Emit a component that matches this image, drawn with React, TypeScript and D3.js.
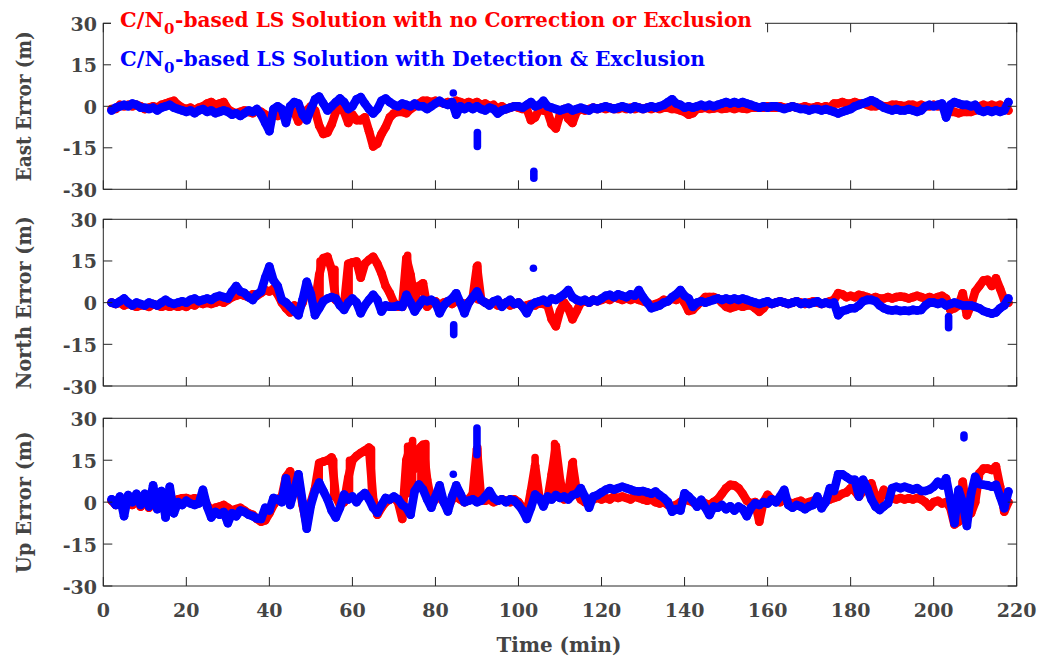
import { useEffect, useRef } from 'react';
import * as d3 from 'd3';

const W = 1043;
const H = 659;

// sample times (min), one reading per minute
const minutes = d3.range(2, 219);
const timeTicks = [0, 20, 40, 60, 80, 100, 120, 140, 160, 180, 200, 220];
const errorTicks = [-30, -15, 0, 15, 30];

// ---- East error (m) ----
const eastNoCorrection = [
  -1, -1, 0.5, 0, 0.5, 0, 0.5, 0, -1, -0.5,
  0, -0.5, 0.5, 1, 1.5, 2, 0.5, -0.5, -1, -0.5,
  -1.5, -0.5, 0, 1, 1.5, 0.5, 1, 1.5, -1, -2,
  -2.5, -2, -1.5, -2, -2.5, -1.5, -2, -3, -4, -3,
  -3.5, -2, -3, -1, -2, -5.5, -2, -1.5, 0, -1.5,
  -7, -10, -9.5, -6.5, -2, 0, -2, -6, -3, -5,
  -5, -4, -9, -14.5, -13.5, -10, -7.5, -4, -2.5, -2,
  -2, -2.5, -1, 0, 1, 2, 2, 1.5, 2, 1.5,
  1, 1.5, 1, 2, 1.5, 1, 1.5, 1, 1.5, 0.5,
  1, 0, 0.5, -1, 0, -1, -0.5, 0, -0.5, -1,
  -1, -5, -4, -1, -1.5, -2, -6.5, -8, -3, -1,
  -4.5, -6, -2, -1, -1.5, -1, -0.5, -1, -0.5, -1,
  -0.5, -1, -1, -0.5, -1, -0.5, -1, -0.5, -1, -0.5,
  -1, -0.5, -1, -0.5, -0.5, -1, -1, -1.5, -2, -3,
  -2.5, -1, -0.8, -0.5, -1, -0.8, -0.5, -1, -0.8, -0.5,
  -1, -0.5, -0.8, -1, -0.5, -0.5, -0.5, -0.5, 0, -0.5,
  -0.5, 0, -0.5, -0.5, 0, -0.5, -0.5, 0, -0.5, -0.5,
  0, -0.5, 0, -0.5, 1, 1, 1.5, 1, 1, 1.5,
  1, 1, 0.5, 0, 0, 0.5, 0, 0, 0.5, 0.5,
  0.3, 0, 0.5, 0.5, 0, 0.5, 0, 0, 0.5, 0,
  0, -0.5, -2, -2, -2.5, -2, -2, -2, -1.5, 0,
  0.5, 0, 0.5, 0, 0.5, -0.5, -1.5,
];
const eastExclusion = [
  -1.5, -0.5, 0, 0.5, 0, 1, 0.5, -0.5, -0.5, -1,
  -0.5, -1.5, -0.5, 0, 0.5, -0.5, -1, -1.5, -2, -1.5,
  -2.5, -1.5, -1, -2, -1.5, -2.5, -2, -1.5, -2, -3,
  -2.5, -3.5, -2.5, -1.5, -2, -1, -3, -6, -9, -1,
  0, -1, -6, 0, 1.5, 1, -3, -5, -1, 2.5,
  3.5, 1, -1.5, 0, 1.5, 2.8, 1.5, -1, 0, 2.5,
  3.3, 1, -1, -2.6, -1, 2, 2.8, 1.5, 0.5, 0,
  1, 0.5, 0, 1, 0, 0, -1, 0, 1, 2,
  1, 0.5, 1.5, -3, 0, -1, 0, -1, 0, -1,
  -1.5, -0.5, -1, -2.6, -1.5, -1, -0.5, 0, 0, -0.5,
  0.5, 1.5, 0, 0.5, 2, 0, -0.5, -1, -1.5, -1,
  -0.5, -1.5, -1, -0.5, -1, -1.5, -0.5, -1, -0.5, 0,
  -0.5, -1, -0.5, 0, -0.5, -1, 0, -0.5, -1, -0.5,
  0, -0.5, 0, 0.5, 1.5, 2.5, 1, 0.5, -0.5, 0,
  -0.5, 0, 0.5, 0, 0.5, 0, 0.5, 1, 1.5, 1,
  1.5, 1, 1.5, 1, 0.5, 0, -0.5, 0, -0.5, 0,
  0, -0.5, -1, -0.5, 0, -0.5, -1, -1, -1.5, -1,
  -1, -1.5, -1, -1.5, -2, -2.6, -2, -1.5, -1, 0,
  0.5, 1, 1.5, 2.2, 1.5, 0.5, -0.5, -1, -1.5, -1,
  -1.5, -1.5, -1, -1.5, -2, -1.5, 0, 0.5, 0, 0.5,
  1, -4, 0.5, 1.5, 1, 0.5, 0.5, 0, 0.5, -1.5,
  -2, -1.5, -2, -1.5, -2, -1.5, 1.5,
];
// isolated bursts: time, lowest, highest
const eastExclusionBurstT = [84.3, 90.1, 103.7];
const eastExclusionBurstLo = [4.8, -14.5, -26];
const eastExclusionBurstHi = [4.8, -9.5, -23.5];
const eastNoCorrectionBurstT: number[] = [];
const eastNoCorrectionBurstLo: number[] = [];
const eastNoCorrectionBurstHi: number[] = [];

// ---- North error (m) ----
const northNoCorrection = [
  0, -0.5, 0, -1, -0.5, -1, -1.5, -1, -1, -1.5,
  -0.5, -1, -1.5, -1, -1.5, -1, -1.5, -1, -1.5, -0.5,
  -1, 0, -0.5, 0, -0.5, 0, 0.5, 0, 1, 2,
  2.5, 3, 2.5, 2, 3, 2.5, 3.5, 4.5, 4, 5,
  3, 0, -2, -3.5, -1, -3, 0, 5, 3, 0,
  10, 16, 16.5, 12, 1, 0, -1, 14, 14.5, 14.8,
  9, 14, 15.4, 16.5, 14, 10.6, 6, 3.4, 0, -1.5,
  -1.5, 16, 10, 1, 6, 7, -1.5, 0, 0.5, -1,
  0, 0.5, -0.5, 0.5, 0, -0.5, 0, 2, 13, 1,
  0, -0.5, 0, -1, -0.5, 0, -1, -0.5, 0, -1.5,
  -1, -0.5, -1, 0, -0.5, -1, -6, -8.5, -3, 0,
  -2, -6, -3, 0, 0.5, 0, 1, 0.5, 1, 1.5,
  1, 2, 1.5, 1, 1.5, 1, 1.5, 1, 0.5, 0,
  -1, -0.5, 0, 1, 0.5, 1.5, 1, 2, 0, -3,
  -2.6, -1, 0.5, 2, 2, 2, 1.5, 0, -1.5, -2,
  -1.5, -1, -1.5, -1, -1, -2, -3.3, -2, 0, -0.5,
  0, 0.5, 0, -0.5, 0, 0.5, 0, -0.5, 0, 0.5,
  0, -0.5, 0, 0.5, 1, 3.4, 3, 2, 2.5, 2,
  2.8, 2.5, 2, 1.5, 2, 1.5, 1.5, 2, 1.5, 2,
  2.2, 2, 1.5, 2, 2.5, 2, 1.5, 2, 1.5, 2,
  2.5, 1.5, -2.6, -2, -1, 3.4, -4.5, -1, 4, 6,
  8, 8.2, 6, 8.8, 5, 1, 0,
];
const northExclusion = [
  0, -0.5, 0.5, 1.5, 0, -1, 0, -0.5, -1, 0,
  -0.5, -1, 0, 1, 0, -0.5, 0, 0.5, 0, 1,
  1.5, 0.5, 1, 1.5, 1, 2, 2.5, 2, 1.5, 4,
  6, 4, 3.5, 2, 1, 3, 4, 9, 13, 8,
  6, 1, 0, -1.5, -3, -4.5, 1, 7.5, 3, -4.5,
  -2, 0.5, 1.5, 2, 1.5, -1, -2.6, 0, 1.5, 0,
  -3.8, -1, 1, 2.8, 1, -3.2, -1, -1.5, -1.5, -1,
  -1.5, 2.8, 0, -3.2, -1, 1, 0.5, 1, 0, -3.8,
  -1, 0.5, 1.5, 3.4, 0, -3.8, 0, 2, 4, 1,
  0, -1, 0.5, 1, -1.5, 0, 1, -0.5, 0, -1.5,
  -3.8, -1, 0, 0.5, 1, 0, 1.5, 1, 2, 3,
  4.5, 2, 1, 0.5, 1, 0, 1, 0.5, 1.5, 2.5,
  2.8, 2, 3, 2.5, 2, 3, 2.5, 4.5, 2, 0,
  -2, -1.5, -1, 0, 0.5, 2, 3, 4.5, 2.5, 1.5,
  -1.5, 0, 0.5, 0, 0.5, 1, 1.5, 1, 1.5, 1,
  1.5, 1, 1.5, 1, 0.5, 0, -0.5, 0, 0.5, -0.5,
  0, 0.5, 0, -0.5, 0, 0.5, -0.5, 0, -0.5, 0,
  0.5, -0.5, 0, -0.5, 0, -4.5, -3, -2.6, -2, -2,
  -1, 0.5, 1, 1, 0.5, -1, -2, -2.6, -2.8, -2.6,
  -3, -2.8, -3, -2.6, -2.8, -2.6, -1, 0, 0, -0.5,
  0, -1, -0.5, 0, -0.5, -1, -1, -1, -1.5, -2,
  -3, -3.5, -4, -3.5, -2, -1, 1.5,
];
const northExclusionBurstT = [84.4, 103.6, 203.6];
const northExclusionBurstLo = [-11.5, 12.4, -9];
const northExclusionBurstHi = [-8, 12.4, -5];
const northNoCorrectionBurstT = [52.2, 55.8, 59.2, 73.3, 90.2];
const northNoCorrectionBurstLo = [2, 1, 1, 0, 1];
const northNoCorrectionBurstHi = [15, 12, 14, 17, 13.5];

// ---- Up error (m) ----
const upNoCorrection = [
  0.5, -1, 1.5, -3, 2, -1, 2, -1.6, 2, -2,
  4, -2, 3, -4, 4, -2, 1, 1.4, 1.5, 1,
  1.4, 0.5, 2, -1, -3, -2, -1.6, -1, -2, -3,
  -2.5, -2, -3, -4, -4.5, -6, -7, -6.5, -4, -1,
  1, 2, 9, 11, 4, 8, -1, -8, 0, 5,
  14, 14.5, 15, 16, 2, -1, 0, 8.7, 15, 16.5,
  17.6, 18.5, 19.5, 1, -4.5, -2, 0, 1, 1.5, 0,
  -6, 15, 20, 12, 19, 20.5, 8, 0, 1, 3,
  0, -2, 1, 2, 1, 0, 1, 3, 19, 1,
  0.5, 1, 0, 0.5, 1, 0.5, 0, 1, 0, -2,
  -4, 4, 13, 2, 0, 1, 10, 20, 8, 1,
  3, 14, 4, 1, 0, 0.5, 1, 1.5, 1, 1.5,
  1, 2, 1.5, 2, 1.5, 1, 2, 1.5, 1, 0.5,
  1, 0, -0.5, 0, -1, -1.5, -1, 0, 1, 0.5,
  0, -1, 0.5, -0.5, -1, 0, 1, 3, 5, 6.2,
  6, 5, 3, 0.5, -0.5, 0, -7, 0, 2.6, 1,
  0.5, 0, 1, 0, -0.5, 0, 0.5, -0.5, 0, 0.5,
  0, 0, 0.5, 1, 1.5, 2, 3, 3.5, 5, 4,
  2, 4, 6, 6.7, 2, 1, 4.4, 2, 1.4, 1,
  1.5, 1, 1.4, 1, 1.5, 1, 0, -1.6, 0, 0.5,
  -0.5, 0, -2, -8, -7, 7.3, -4, -4, 0, 10.3,
  12, 12, 11.5, 12.8, 5.6, -3.4, 0,
];
const upExclusion = [
  1, -1, 2, -5, 2.5, 0, 3, -1, 3, -1.5,
  6, -2.5, 4, -5.5, 5.5, -4, 0, -1, 0.5, -0.5,
  -1, -0.5, 4.4, -1.6, -5.5, -3.5, -4.5, -3.5, -7.5, -4,
  -5, -3, -3.5, -4.5, -5, -5.8, -6, -2, -3, 1.5,
  1, 0, 8.5, -1, 4, 10, 0, -9.5, -1, 4,
  7, 4, 1, -3, -5.5, -2, 2.7, 1, 2, 0,
  2, 3.3, 1, -2, -3.8, -1, 1.5, 1, 2, 1,
  -1, -2, -4.5, 4, 6.3, 4.5, 1, -2, 2, 6,
  0, -3.3, 2, 6, 3, 0, 0.5, 1, 0, 0.5,
  2, 4, 1.5, 0.5, 1, 0, 1, 0.5, -1, -3,
  -6, -2, 2.7, 1.5, -1.5, 2, 1, 2.5, 1.5, 2,
  1, 2.5, 3, 5, 2, -2, 2, 2.5, 3.5, 4.4,
  5, 4.5, 5, 5.5, 5, 4.5, 4, 3.8, 4, 3.5,
  3, 3.8, 2.5, 1.5, 0, -3.4, -2.5, -3, 3.2, 2,
  0.5, -1.6, 0.8, -2, -4.6, -1.6, -2, -1, -2.5, -1.5,
  -3, -1.6, -2.5, -5, -2, -0.4, -1, 0, -0.5, 1,
  0, 2, 4.4, -1, -2, -1, -1.6, -2.5, -1.5, -1,
  2, -2.2, 0, 5, 4, 10, 10, 9, 8, 8,
  2, 8, 5, 1, -1.6, -2.8, -1.5, -0.4, 5, 5.5,
  5, 5.5, 5, 4.5, 5, 4, 4, 4.5, 5.5, 7.3,
  6, 8.5, 0.8, -7.5, 4.4, 0, -8.5, 3, 9.1, 6.5,
  6.2, 6, 5.5, 6.2, 2, -2.2, 3.8,
];
const upExclusionBurstT = [84.3, 90, 207.3];
const upExclusionBurstLo = [10, 17, 23];
const upExclusionBurstHi = [10, 26.5, 24];
const upNoCorrectionBurstT = [52, 55.5, 59.3, 64.6, 73.3, 74.5, 76.5, 77.7, 90.2, 104, 108.7, 113.2];
const upNoCorrectionBurstLo = [5, 2, 2, 2, 3, 5, 5, 5, 2, 8, 3, 3];
const upNoCorrectionBurstHi = [14, 15, 15, 19, 20, 22, 20, 21, 19.5, 16, 21, 14.5];

const RED = '#ff0000';
const BLUE = '#0000ff';
const AXIS = '#262626';
const LABEL = '#444444';
const FONT = '"DejaVu Serif", serif';

const panels = [
  {
    label: 'East Error (m)', top: 23.3, bottom: 189.3,
    red: eastNoCorrection, blue: eastExclusion,
    redBurst: [eastNoCorrectionBurstT, eastNoCorrectionBurstLo, eastNoCorrectionBurstHi],
    blueBurst: [eastExclusionBurstT, eastExclusionBurstLo, eastExclusionBurstHi],
    labelLen: 150,
  },
  {
    label: 'North Error (m)', top: 219.3, bottom: 386,
    red: northNoCorrection, blue: northExclusion,
    redBurst: [northNoCorrectionBurstT, northNoCorrectionBurstLo, northNoCorrectionBurstHi],
    blueBurst: [northExclusionBurstT, northExclusionBurstLo, northExclusionBurstHi],
    labelLen: 173,
  },
  {
    label: 'Up Error (m)', top: 418.3, bottom: 586,
    red: upNoCorrection, blue: upExclusion,
    redBurst: [upNoCorrectionBurstT, upNoCorrectionBurstLo, upNoCorrectionBurstHi],
    blueBurst: [upExclusionBurstT, upExclusionBurstLo, upExclusionBurstHi],
    labelLen: 142,
  },
];

const App = () => {
  const svgRef = useRef<SVGSVGElement>(null);

  useEffect(() => {
    const svg = d3.select(svgRef.current);
    svg.selectAll('*').remove();

    const x = d3.scaleLinear().domain([0, 220]).range([103.3, 1016.7]);
    const MARK_W = 8.6;

    panels.forEach((p, pi) => {
      const y = d3.scaleLinear().domain([-30, 30]).range([p.bottom, p.top]);
      const g = svg.append('g');

      const drawSeries = (vals: number[], burst: number[][], color: string) => {
        const pts = vals.map((v, i) => [minutes[i], v] as [number, number]);
        const line = d3.line<[number, number]>()
          .x(d => x(d[0]))
          .y(d => y(d[1]));
        g.append('path')
          .attr('d', line(pts))
          .attr('fill', 'none')
          .attr('stroke', color)
          .attr('stroke-width', MARK_W)
          .attr('stroke-linejoin', 'round')
          .attr('stroke-linecap', 'round');
        g.append('g')
          .selectAll('circle')
          .data(pts)
          .join('circle')
          .attr('cx', d => x(d[0]))
          .attr('cy', d => y(d[1]))
          .attr('r', MARK_W / 2)
          .attr('fill', color);

        const [bt, lo, hi] = burst;
        g.append('g')
          .selectAll('line')
          .data(bt)
          .join('line')
          .attr('x1', d => x(d))
          .attr('x2', d => x(d))
          .attr('y1', (d, i) => y(lo[i]))
          .attr('y2', (d, i) => y(hi[i]))
          .attr('stroke', color)
          .attr('stroke-width', MARK_W - 1)
          .attr('stroke-linecap', 'round');
      };

      drawSeries(p.red, p.redBurst, RED);
      drawSeries(p.blue, p.blueBurst, BLUE);

      // frame
      g.append('rect')
        .attr('x', x(0))
        .attr('y', p.top)
        .attr('width', x(220) - x(0))
        .attr('height', p.bottom - p.top)
        .attr('fill', 'none')
        .attr('stroke', AXIS)
        .attr('stroke-width', 1);

      const TICK = 9;
      // x ticks, inward on top and bottom
      timeTicks.forEach(t => {
        g.append('line')
          .attr('x1', x(t)).attr('x2', x(t))
          .attr('y1', p.bottom).attr('y2', p.bottom - TICK)
          .attr('stroke', AXIS);
        g.append('line')
          .attr('x1', x(t)).attr('x2', x(t))
          .attr('y1', p.top).attr('y2', p.top + TICK)
          .attr('stroke', AXIS);
      });
      // y ticks, inward on left and right
      errorTicks.forEach(v => {
        g.append('line')
          .attr('x1', x(0)).attr('x2', x(0) + TICK)
          .attr('y1', y(v)).attr('y2', y(v))
          .attr('stroke', AXIS);
        g.append('line')
          .attr('x1', x(220)).attr('x2', x(220) - TICK)
          .attr('y1', y(v)).attr('y2', y(v))
          .attr('stroke', AXIS);
        g.append('text')
          .attr('x', 97)
          .attr('y', y(v) + 7.5)
          .attr('text-anchor', 'end')
          .attr('font-family', FONT)
          .attr('font-weight', 'bold')
          .attr('font-size', 19)
          .attr('fill', LABEL)
          .text(v);
      });

      // y label
      g.append('text')
        .attr('transform', `translate(31,${(p.top + p.bottom) / 2}) rotate(-90)`)
        .attr('text-anchor', 'middle')
        .attr('font-family', FONT)
        .attr('font-weight', 'bold')
        .attr('font-size', 20)
        .attr('fill', LABEL)
        .attr('textLength', p.labelLen)
        .attr('lengthAdjust', 'spacingAndGlyphs')
        .text(p.label);

      if (pi === panels.length - 1) {
        timeTicks.forEach(t => {
          g.append('text')
            .attr('x', x(t))
            .attr('y', 616.7)
            .attr('text-anchor', 'middle')
            .attr('font-family', FONT)
            .attr('font-weight', 'bold')
            .attr('font-size', 19)
            .attr('fill', LABEL)
            .text(t);
        });
        g.append('text')
          .attr('x', 559)
          .attr('y', 651.7)
          .attr('text-anchor', 'middle')
          .attr('font-family', FONT)
          .attr('font-weight', 'bold')
          .attr('font-size', 20)
          .attr('fill', LABEL)
          .attr('textLength', 125)
          .attr('lengthAdjust', 'spacingAndGlyphs')
          .text('Time (min)');
      }
    });

    // legend
    const legend = svg.append('g');
    legend.append('rect')
      .attr('x', 111)
      .attr('y', 0)
      .attr('width', 654)
      .attr('height', 80)
      .attr('fill', 'white');

    const entries = [
      { color: RED, rest: '-based LS Solution with no Correction or Exclusion', y: 27, len: 632 },
      { color: BLUE, rest: '-based LS Solution with Detection & Exclusion', y: 66, len: 585 },
    ];
    const LEG_X = 120;
    entries.forEach(e => {
      const style = (s: any, size: number) => s
        .attr('font-family', FONT)
        .attr('font-weight', 'bold')
        .attr('font-size', size)
        .attr('fill', e.color);

      const head = style(legend.append('text'), 21)
        .attr('x', LEG_X)
        .attr('y', e.y)
        .text('C/N');
      const w1 = (head.node() as SVGTextElement).getComputedTextLength();

      const sub = style(legend.append('text'), 15)
        .attr('x', LEG_X + w1 + 0.5)
        .attr('y', e.y + 7)
        .text('0');
      const w2 = (sub.node() as SVGTextElement).getComputedTextLength() + 1;

      style(legend.append('text'), 21)
        .attr('x', LEG_X + w1 + w2)
        .attr('y', e.y)
        .attr('textLength', e.len - w1 - w2)
        .attr('lengthAdjust', 'spacingAndGlyphs')
        .text(e.rest);
    });
  }, []);

  return (
    <div style={{ position: 'fixed', left: 0, top: 0, background: 'white' }}>
      <svg ref={svgRef} width={W} height={H} style={{ display: 'block' }} />
    </div>
  );
};

export default App;
